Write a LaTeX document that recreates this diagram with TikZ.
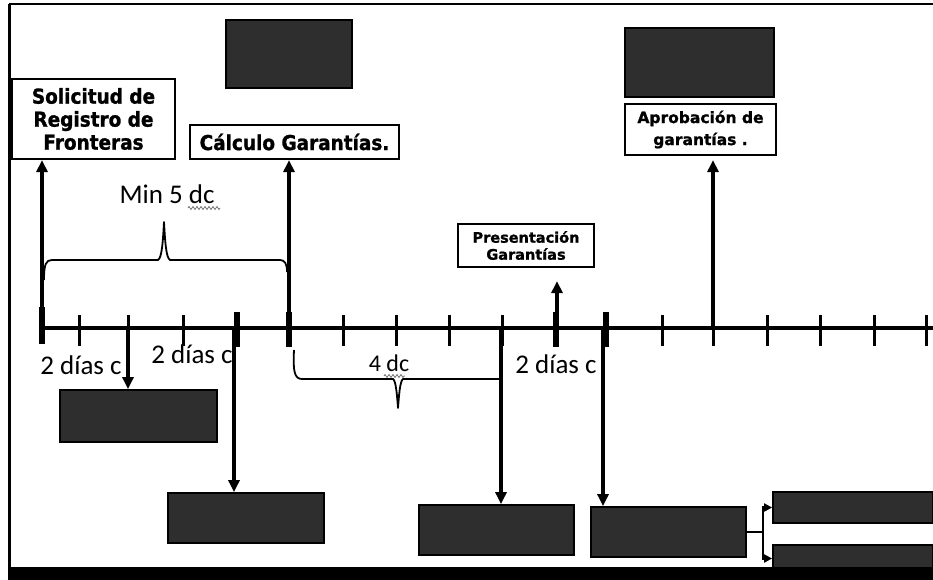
\documentclass[tikz,border=0pt]{standalone}
\usepackage{fontspec}
\setmainfont{Carlito}
\newfontfamily\dvc{DejaVu Sans}[FakeStretch=0.9, FakeBold=1.2]
\newfontfamily\dvs{DejaVu Sans}[FakeBold=1.2]
\usetikzlibrary{arrows.meta,decorations.pathmorphing}
\begin{document}
\begin{tikzpicture}[x=1pt,y=-1pt,
  lbl/.style={draw, line width=2.2pt, fill=white, inner sep=0pt, align=center},
  dark/.style={draw=black, line width=1.8pt, fill=black!82, inner sep=0pt},
  axisline/.style={line width=3.5pt},
  tickmark/.style={line width=3pt},
  bigtick/.style={line width=5.5pt},
  arr/.style={line width=3.5pt, -{Triangle[length=12pt,width=11pt]}},
  bracepath/.style={line width=1.8pt, line join=round},
  note/.style={font=\fontsize{27}{30}\selectfont, inner sep=0pt, anchor=base},
  wavy/.style={black!55, line width=0.8pt, decorate, decoration={zigzag, segment length=4pt, amplitude=1.5pt}}]
\useasboundingbox (0,0) rectangle (933,580);
% frame
\draw[line width=1.5pt] (9,4) -- (933,4);
\draw[line width=3pt] (9,568) -- (9,4);
% boxes
\node[lbl, minimum width=163pt, minimum height=80pt, font=\dvc\bfseries\fontsize{20.5}{23}\selectfont] (sol) at (93.5,119) {Solicitud de\\Registro de\\Fronteras};
\node[lbl, minimum width=209pt, minimum height=34pt, font=\dvc\bfseries\fontsize{20.5}{22}\selectfont] (calc) at (294.5,142) {Cálculo Garantías.};
\node[dark, minimum width=126pt, minimum height=68pt] (dt1) at (289,54) {};
\node[dark, minimum width=149pt, minimum height=69pt] (dt2) at (699.5,62.5) {};
\node[lbl, minimum width=151pt, minimum height=51pt, font=\dvs\bfseries\fontsize{15.5}{22}\selectfont] (apr) at (700.5,129.5) {Aprobación de\\garantías .};
\node[lbl, minimum width=136pt, minimum height=43pt, font=\dvs\bfseries\fontsize{14.5}{17}\selectfont] (pre) at (526,245.5) {Presentación\\Garantías};
\node[dark, minimum width=157pt, minimum height=52pt] (d1) at (138.5,416) {};
\node[dark, minimum width=156pt, minimum height=50pt] (d2) at (246,518) {};
\node[dark, minimum width=155pt, minimum height=50pt] (d3) at (496.5,530) {};
\node[dark, minimum width=155pt, minimum height=50pt] (d4) at (668.5,532) {};
\node[dark, minimum width=160pt, minimum height=31pt] (dA) at (853,507.5) {};
\node[dark, minimum width=160pt, minimum height=27pt] (dB) at (853,558.5) {};
% timeline
\coordinate (tl) at (42,328);
\coordinate (tr) at (933,328);
\draw[axisline] (tl) -- (tr);
\foreach \x in {79,128,183,343,396,449,502,662,713,767,820,874,926}
  \draw[tickmark] (\x,315) -- (\x,346);
\draw[bigtick] (42,307) -- (42,344);
\foreach \x in {237,289,556,606}
  \draw[bigtick] (\x,312) -- (\x,347);
% points on the timeline
\coordinate (p0) at (42,328);
\coordinate (p2) at (128,328);
\coordinate (p4) at (234,328);
\coordinate (p5) at (289,328);
\coordinate (p9) at (501,328);
\coordinate (p10) at (557,328);
\coordinate (p11) at (603,328);
\coordinate (p13) at (713,328);
% up arrows
\draw[arr] (p0) -- (p0 |- sol.south);
\draw[arr] (p5) -- (p5 |- calc.south);
\draw[arr, shorten >=13pt] (p10) -- (p10 |- pre.south);
\draw[arr, shorten >=4pt] (p13) -- (p13 |- apr.south);
% down arrows
\draw[arr] (p2) -- (p2 |- d1.north);
\draw[arr] (p4) -- (p4 |- d2.north);
\draw[arr] (p9) -- (p9 |- d3.north);
\draw[arr] (p11) -- (p11 |- d4.north);
% branch
\draw[line width=2.5pt] (d4.east) -- ++(16,0) coordinate (bj);
\draw[line width=2.5pt, -{Triangle[length=8pt,width=8pt]}] (bj) |- (dA.west);
\draw[line width=2.5pt, -{Triangle[length=8pt,width=8pt]}] (bj) |- (dB.west);
% braces
\draw[bracepath] (44,280) .. controls (44,264) and (46,260) .. (52,260) -- (158,260) .. controls (162,258) and (163,240) .. (164,222) .. controls (165,240) and (166,258) .. (170,260) -- (280,260) .. controls (285,260) and (287,264) .. (287,272);
\draw[bracepath] (294,350) .. controls (293,370) and (294,379) .. (302,379) -- (393,379) .. controls (396,381) and (397,395) .. (398,408) .. controls (399,395) and (400,381) .. (403,379) -- (502,379);
% texts
\node[note] (m5) at (167,203) {Min 5 dc};
\draw[wavy] (188,208) -- (220,208);
\node[note] (l1) at (81,374) {2 días c};
\node[note] (l2) at (192,363) {2 días c};
\node[note] (l3) at (556,373) {2 días c};
\node[note, font=\fontsize{24}{26}\selectfont] (l4) at (389,371) {4 dc};
\draw[wavy] (384,376) -- (405,376);
% bottom band
\fill (8,567) rectangle (933,580);
\end{tikzpicture}
\end{document}
